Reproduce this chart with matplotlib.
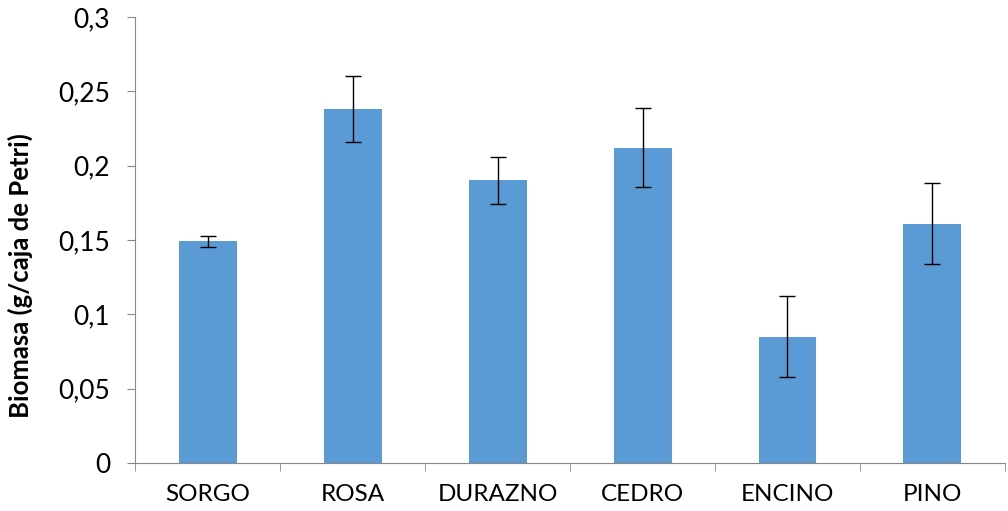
import matplotlib
matplotlib.use("Agg")
import matplotlib.pyplot as plt
from matplotlib.ticker import FixedLocator, FuncFormatter
import numpy as np

# Data
categories = ["SORGO", "ROSA", "DURAZNO", "CEDRO", "ENCINO", "PINO"]
biomasa = [0.149, 0.238, 0.190, 0.212, 0.085, 0.161]
error = [0.0035, 0.022, 0.016, 0.0265, 0.027, 0.027]

plt.rcParams['font.family'] = ['Lato', 'DejaVu Sans']

fig = plt.figure(figsize=(10.08, 5.11), dpi=100)
ax = fig.add_axes([0.134, 0.094, 0.863, 0.873])

x = np.arange(len(categories))
ax.bar(x, biomasa, width=0.4, color='#5B9BD5', zorder=2)
ax.errorbar(x, biomasa, yerr=error, fmt='none', ecolor='black',
            elinewidth=1, capsize=6, capthick=1, zorder=3)

ax.set_xlim(-0.5, len(categories) - 0.5)
ax.set_ylim(0, 0.3)
ax.set_yticks(np.arange(0, 0.301, 0.05))
ax.yaxis.set_major_formatter(FuncFormatter(
    lambda v, p: ('%g' % round(v, 3)).replace('.', ',')))

ax.set_xticks(x)
ax.set_xticklabels(categories)
ax.xaxis.set_minor_locator(FixedLocator(np.arange(-0.5, len(categories), 1)))
ax.tick_params(axis='x', which='major', length=0, pad=15, labelsize=17.5)
ax.tick_params(axis='x', which='minor', length=6, color='#888888', direction='out')
ax.tick_params(axis='y', length=6, color='#888888', direction='out', labelsize=19, pad=12)

for side in ['top', 'right']:
    ax.spines[side].set_visible(False)
for side in ['left', 'bottom']:
    ax.spines[side].set_color('#888888')

ax.set_ylabel('Biomasa (g/caja de Petri)', fontsize=18.5, fontweight='bold')
ax.yaxis.set_label_coords(-0.117, 0.42)

fig.savefig('out.png', dpi=100, facecolor='white')
